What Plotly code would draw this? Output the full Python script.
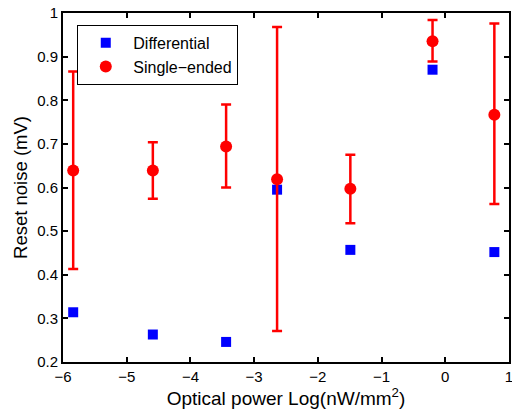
import plotly.graph_objects as go

x_vals = [-5.84, -4.59, -3.44, -2.64, -1.49, -0.20, 0.77]
diff_vals = [0.314, 0.263, 0.246, 0.595, 0.457, 0.870, 0.452]
single_vals = [0.639, 0.639, 0.694, 0.619, 0.597, 0.935, 0.767]
single_upper = [0.866, 0.704, 0.790, 0.968, 0.675, 0.984, 0.976]
single_lower = [0.413, 0.574, 0.600, 0.271, 0.518, 0.889, 0.562]

err_plus = [u - v for u, v in zip(single_upper, single_vals)]
err_minus = [v - l for v, l in zip(single_vals, single_lower)]

font = "Liberation Sans, Arial, sans-serif"

fig = go.Figure()
fig.add_trace(go.Scatter(
    x=x_vals, y=diff_vals, mode="markers", name="Differential",
    marker=dict(symbol="square", size=10, color="#0000ff"),
))
fig.add_trace(go.Scatter(
    x=x_vals, y=single_vals, mode="markers", name="Single\u2212ended",
    marker=dict(symbol="circle", size=12, color="#ff0000"),
    error_y=dict(type="data", symmetric=False, array=err_plus, arrayminus=err_minus,
                 color="#ff0000", thickness=2.5, width=5),
))

axis_common = dict(
    showgrid=False, zeroline=False, showline=True, linecolor="black", linewidth=2,
    mirror="ticks", ticks="inside", ticklen=5, tickwidth=1.5, tickcolor="black",
    tickfont=dict(family=font, size=15, color="black"), automargin=False,
    ticklabeloverflow="allow",
)

fig.update_layout(
    width=512, height=415,
    margin=dict(l=63, r=3, t=13, b=53),
    paper_bgcolor="white", plot_bgcolor="white",
    font=dict(family=font, color="black"),
    showlegend=True,
    legend=dict(x=0.032, y=0.966, xanchor="left", yanchor="top",
                bordercolor="black", borderwidth=1, bgcolor="white",
                font=dict(family=font, size=16, color="black"),
                tracegroupgap=0, itemwidth=45),
    xaxis=dict(range=[-6, 1], tickvals=[-6, -5, -4, -3, -2, -1, 0, 1],
               title=dict(text="Optical power Log(nW/mm<sup>2</sup>)", font=dict(family=font, size=19), standoff=3),
               **axis_common),
    yaxis=dict(range=[0.2, 1], tickvals=[0.2, 0.3, 0.4, 0.5, 0.6, 0.7, 0.8, 0.9, 1],
               ticktext=["0.2", "0.3", "0.4", "0.5", "0.6", "0.7", "0.8", "0.9", "1"],
               title=dict(text="Reset noise (mV)", font=dict(family=font, size=18.5), standoff=5),
               **axis_common),
)

fig.write_html("out.html", config={"displayModeBar": False},
               post_script="document.body.style.margin='0px';document.body.style.overflow='hidden';")
